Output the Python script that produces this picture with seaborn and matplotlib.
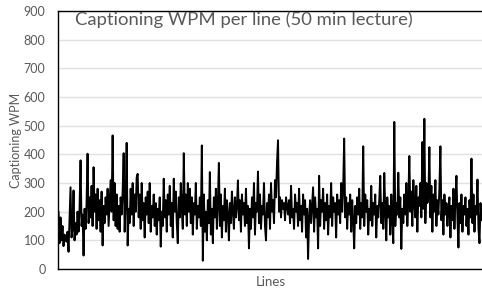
import numpy as np
import pandas as pd
import matplotlib
matplotlib.use("Agg")
import matplotlib.pyplot as plt
import seaborn as sns

title = "Captioning WPM per line (50 min lecture)"
y_label = "Captioning WPM"
x_label = "Lines"
y_ticks = [0, 100, 200, 300, 400, 500, 600, 700, 800, 900]

wpm = [
    200, 90, 180, 100, 150, 80, 120, 110, 95, 130,
    60, 170, 285, 110, 140, 274, 100, 160, 120, 200,
    130, 210, 379, 150, 190, 47, 210, 140, 230, 402,
    160, 250, 180, 290, 150, 355, 200, 260, 140, 280,
    170, 240, 130, 270, 82, 220, 160, 250, 190, 280,
    150, 230, 310, 200, 466, 170, 300, 150, 260, 140,
    220, 130, 250, 190, 270, 404, 130, 240, 440, 82,
    210, 160, 280, 190, 300, 150, 260, 200, 320, 332,
    180, 260, 140, 300, 170, 230, 110, 250, 190, 270,
    160, 300, 130, 220, 180, 260, 150, 230, 120, 210,
    170, 250, 78, 200, 150, 315, 180, 240, 130, 260,
    190, 290, 150, 230, 110, 315, 200, 270, 160, 90,
    250, 180, 300, 210, 140, 404, 190, 260, 150, 300,
    200, 280, 160, 250, 120, 230, 190, 300, 140, 220,
    180, 250, 150, 431, 29, 260, 130, 200, 100, 240,
    160, 338, 120, 210, 90, 250, 180, 280, 140, 230,
    370, 150, 260, 110, 220, 170, 280, 130, 240, 190,
    100, 230, 160, 270, 200, 140, 250, 180, 220, 309,
    170, 240, 130, 260, 190, 230, 150, 280, 160, 220,
    72, 210, 140, 250, 180, 300, 120, 230, 200, 340,
    160, 260, 140, 220, 190, 300, 150, 100, 230, 180,
    260, 140, 300, 200, 240, 160, 310, 250, 370, 449,
    200, 250, 180, 240, 210, 230, 170, 250, 220, 190,
    240, 160, 290, 180, 210, 140, 260, 200, 230, 150,
    280, 170, 220, 130, 260, 190, 240, 110, 210, 35,
    180, 240, 160, 220, 285, 130, 250, 180, 210, 72,
    325, 150, 240, 200, 280, 140, 230, 170, 260, 120,
    220, 180, 300, 150, 250, 200, 230, 110, 260, 190,
    240, 160, 300, 200, 280, 455, 180, 250, 140, 230,
    190, 260, 130, 240, 170, 72, 220, 160, 250, 190,
    280, 140, 230, 180, 428, 150, 260, 200, 240, 120,
    210, 170, 290, 150, 230, 190, 260, 110, 220, 180,
    240, 325, 160, 230, 140, 335, 200, 100, 250, 180,
    220, 120, 260, 170, 90, 513, 150, 230, 190, 336,
    180, 250, 70, 210, 160, 260, 190, 300, 150, 240,
    394, 200, 270, 150, 310, 230, 180, 290, 130, 250,
    220, 300, 180, 443, 210, 524, 160, 300, 230, 250,
    425, 180, 290, 130, 260, 200, 310, 150, 240, 190,
    280, 428, 170, 240, 120, 260, 190, 230, 150, 210,
    250, 110, 220, 170, 280, 140, 240, 325, 180, 75,
    230, 160, 260, 130, 220, 190, 250, 150, 210, 120,
    240, 180, 385, 160, 260, 130, 220, 190, 312, 140,
    90, 230, 170, 210, 130,
]

df = pd.DataFrame({"line": np.arange(len(wpm)), "wpm": wpm})

sns.set_theme(style="white")
plt.rcParams["font.family"] = ["Lato", "DejaVu Sans"]
gray = "#595959"

W, H = 482, 290
fig = plt.figure(figsize=(W / 100, H / 100), dpi=100)
ax = fig.add_axes([58 / W, 21 / H, (484 - 58) / W, (269 - 11) / H])

sns.lineplot(data=df, x="line", y="wpm", ax=ax, color="black", lw=1.4)

ax.set_xlim(-0.5, len(wpm) - 0.5)
ax.set_ylim(0, 900)
ax.set_yticks(y_ticks)
ax.set_xticks([])
ax.yaxis.grid(True, color="#e0e0e0", lw=1)
ax.set_axisbelow(True)
for s in ax.spines.values():
    s.set_color("black")
    s.set_linewidth(1.0)
ax.tick_params(axis="y", length=0, pad=9, labelsize=9, labelcolor=gray)
ax.set_ylabel(y_label, fontsize=9, color=gray, labelpad=1)
ax.set_xlabel(x_label, fontsize=9.5, color=gray, labelpad=5)

fig.text(75 / W, 1 - 20 / H, title, fontsize=13.3, color=gray, va="center", ha="left")

fig.savefig("out.png", dpi=100)
